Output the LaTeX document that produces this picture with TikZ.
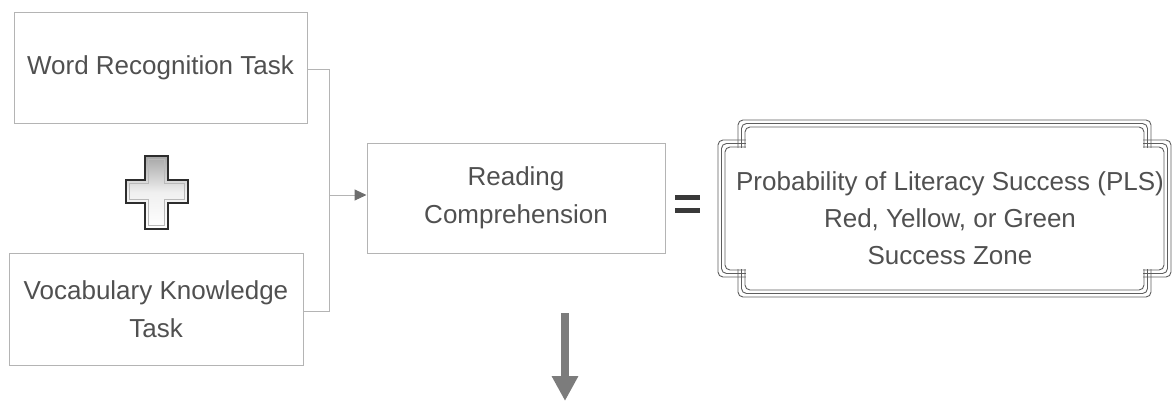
\documentclass[tikz,border=0pt]{standalone}
\usepackage{fontspec}
\setmainfont{Liberation Sans}
\usetikzlibrary{arrows.meta,calc}
\definecolor{txt}{HTML}{505050}
\definecolor{edge}{HTML}{B4B4B4}
\definecolor{frame}{HTML}{5E5E5E}
\definecolor{tip}{HTML}{6E6E6E}
\tikzset{
  taskbox/.style={draw=edge, line width=1pt, text=txt, align=center,
    inner sep=0pt, font=\fontsize{26}{38}\selectfont},
  link/.style={draw=edge, line width=1pt},
  framestroke/.style={draw=frame, line width=0.9pt, rounded corners=5pt},
}
\begin{document}
\begin{tikzpicture}[x=1pt, y=-1pt]
\useasboundingbox (0,0) rectangle (1172,402);

% task boxes
\node[taskbox, minimum width=293pt, minimum height=111pt] (word) at (160.5,67.5)
  {Word Recognition Task};
\node[taskbox, minimum width=294pt, minimum height=112pt] (vocab) at (156,309)
  {Vocabulary Knowledge\\Task};
\node[taskbox, minimum width=298pt, minimum height=110pt] (read) at (516,198)
  {Reading\\Comprehension};

% plus icon between the two tasks
\path[top color=gray!70, bottom color=white, middle color=gray!12,
      draw=gray!35!black, line width=1.4pt]
  (145,156) -- (168,156) -- (168,180) -- (188,180) -- (188,203) -- (168,203)
  -- (168,229) -- (145,229) -- (145,203) -- (126,203) -- (126,180) -- (145,180) -- cycle;
\draw[gray!55, line width=0.8pt]
  (148.5,159.5) -- (164.5,159.5) -- (164.5,183.5) -- (184.5,183.5) -- (184.5,199.5)
  -- (164.5,199.5) -- (164.5,225.5) -- (148.5,225.5) -- (148.5,199.5) -- (129.5,199.5)
  -- (129.5,183.5) -- (148.5,183.5) -- cycle;

% bracket joining the tasks
\coordinate (jtop) at (329,69);
\coordinate (jmid) at (329,195);
\coordinate (jbot) at (329,311);
\draw[link] (word.east |- jtop) -- (jtop) -- (jbot) -- (vocab.east |- jbot);
\draw[link, -{Triangle[length=12pt,width=11pt,color=tip]}] (jmid) -- (read.west |- jmid);

% equals sign
\fill[gray!45!black] (675,195) rectangle (700,200);
\fill[gray!45!black] (675,208) rectangle (700,213);

% outcome box with triple notched frame
\node[minimum width=453pt, minimum height=177pt, inner sep=0pt] (pls) at (944.5,208.5) {};
\node[text=txt, align=center, inner sep=0pt, font=\fontsize{26}{37}\selectfont]
  (plstext) at (950,218)
  {Probability of Literacy Success (PLS)\\Red, Yellow, or Green\\Success Zone};
\foreach \d in {0,3.5,7}{
  \pgfmathsetmacro{\L}{718}\pgfmathsetmacro{\T}{120}
  \pgfmathsetmacro{\R}{1171}\pgfmathsetmacro{\B}{297}
  \pgfmathsetmacro{\n}{20}\pgfmathsetmacro{\e}{7.8}
  \draw[framestroke] (\L+\n+\d,\T+\n+\e) -- (\L+\n+\d,\T+\d) -- (\R-\n-\d,\T+\d) -- (\R-\n-\d,\T+\n+\e);
  \draw[framestroke] (\L+\n+\d,\B-\n-\e) -- (\L+\n+\d,\B-\d) -- (\R-\n-\d,\B-\d) -- (\R-\n-\d,\B-\n-\e);
  \draw[framestroke] (\L+\n+\e,\T+\n+\d) -- (\L+\d,\T+\n+\d) -- (\L+\d,\B-\n-\d) -- (\L+\n+\e,\B-\n-\d);
  \draw[framestroke] (\R-\n-\e,\T+\n+\d) -- (\R-\d,\T+\n+\d) -- (\R-\d,\B-\n-\d) -- (\R-\n-\e,\B-\n-\d);
}

% downward arrow below the comprehension step
\coordinate (dtop) at (565,313);
\coordinate (dtip) at (565,401);
\draw[tip!90!white, line width=8pt,
      -{Triangle[length=25pt,width=25pt]}] (dtop) -- (dtip);
\end{tikzpicture}
\end{document}
